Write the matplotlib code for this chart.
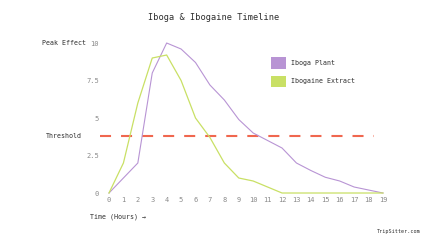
import matplotlib
matplotlib.use('Agg')
import matplotlib.pyplot as plt
from matplotlib.patches import Patch

plt.rcParams['font.family'] = 'DejaVu Sans Mono'

hours = list(range(20))
iboga_plant = [0, 1, 2, 8, 10, 9.6, 8.7, 7.2, 6.2, 4.9, 4.0, 3.5, 3.0, 2.0, 1.5, 1.05, 0.8, 0.4, 0.2, 0]
ibogaine_extract = [0, 2, 6, 9, 9.2, 7.5, 5, 3.7, 2, 1, 0.8, 0.4, 0, 0, 0, 0, 0, 0, 0, 0]
threshold = 3.8
y_ticks = [0, 2.5, 5, 7.5, 10]
y_labels = ['0', '2.5', '5', '7.5', '10']

purple = '#b894d4'
green = '#c9e065'
red = '#f0674f'
text_col = '#2e2e2e'
tick_col = '#8a8a8a'

fig = plt.figure(figsize=(4.27, 2.4), dpi=100)
ax = fig.add_axes([0.2316, 0.1833, 0.6754, 0.65])

ax.plot(hours, iboga_plant, color=purple, lw=0.8, clip_on=False, zorder=3)
ax.plot(hours, ibogaine_extract, color=green, lw=0.9, clip_on=False, zorder=3)
ax.hlines(threshold, -0.6, 18.4, color=red, lw=1.5, linestyles=(0, (5.3, 4.8)), zorder=2)

ax.set_xlim(-0.7, 19.3)
ax.set_ylim(-0.2, 10.2)
ax.set_xticks(hours)
ax.set_yticks(y_ticks)
ax.set_yticklabels(y_labels)
ax.tick_params(length=0, labelsize=5, colors=tick_col, pad=1)
ax.tick_params(axis='y', pad=0)
for s in ax.spines.values():
    s.set_visible(False)

fig.text(0.5, 1 - 17 / 240, 'Iboga & Ibogaine Timeline', ha='center', va='center',
         fontsize=6.2, color=text_col)
fig.text(42 / 427, 1 - 43 / 240, 'Peak Effect', ha='left', va='center', fontsize=4.8, color=text_col)
fig.text(46 / 427, 1 - 136 / 240, 'Threshold', ha='left', va='center', fontsize=4.8, color=text_col)
fig.text(90 / 427, 1 - 217 / 240, 'Time (Hours) \u2192', ha='left', va='center', fontsize=4.8, color=text_col)
fig.text(421 / 427, 1 - 232 / 240, 'TripSitter.com', ha='right', va='center', fontsize=3.7, color=text_col)

handles = [Patch(facecolor=purple, edgecolor='none', label='Iboga Plant'),
           Patch(facecolor=green, edgecolor='none', label='Ibogaine Extract')]
ax.legend(handles=handles, loc='upper left', bbox_to_anchor=(268 / 427, 1 - 54 / 240),
          bbox_transform=fig.transFigure, frameon=False, fontsize=4.8, borderpad=0,
          handlelength=2.2, handleheight=2.2, handletextpad=0.7, labelspacing=1.1,
          labelcolor=text_col)

fig.savefig('out.png', dpi=100)
